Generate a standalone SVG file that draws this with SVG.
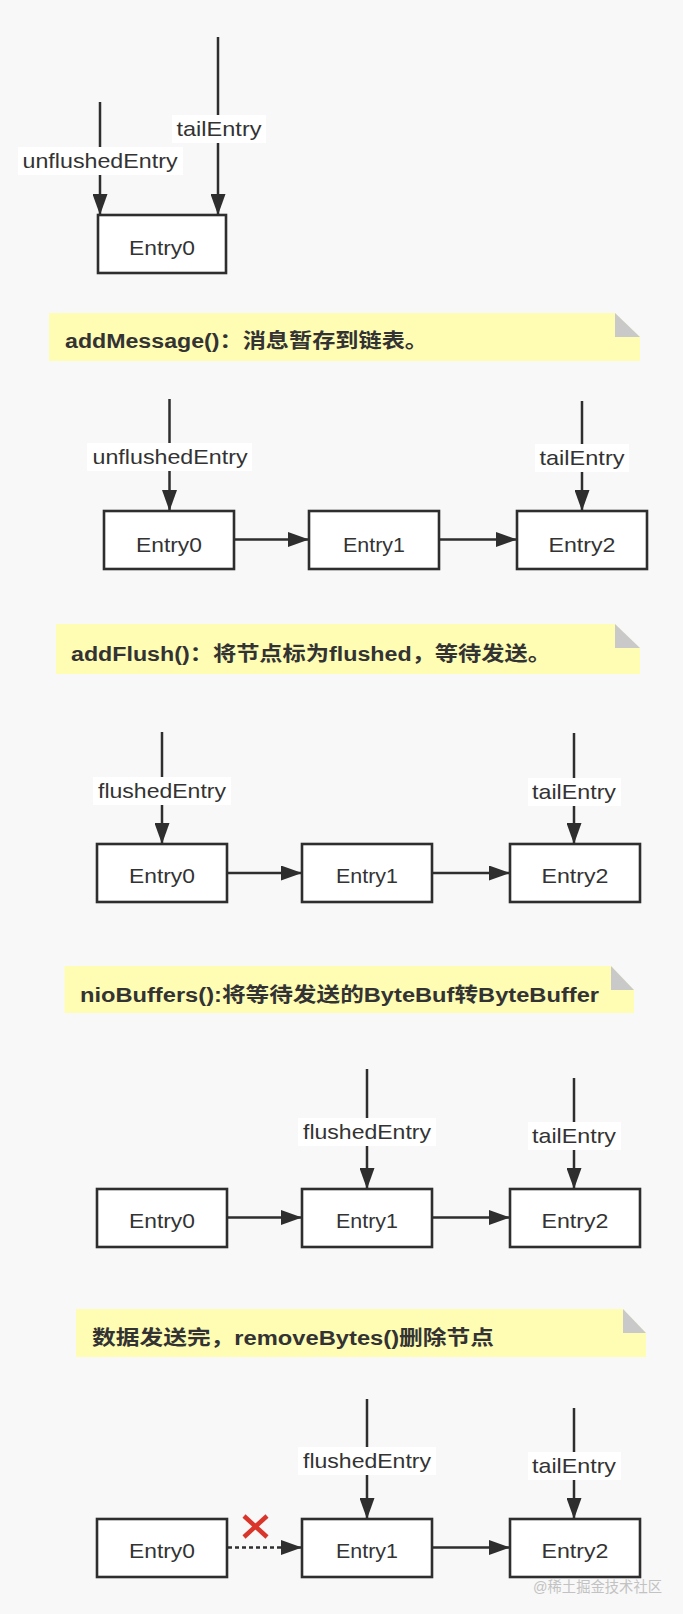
<svg xmlns="http://www.w3.org/2000/svg" width="683" height="1614" viewBox="0 0 683 1614">
<style>
.bg{fill:#f8f8f8}
.box{fill:#ffffff;stroke:#2e2e2e;stroke-width:2.6}
.et{font-family:"Liberation Sans","Noto Sans CJK SC",sans-serif;font-size:21px;fill:#333;text-anchor:middle}
.lbl{font-family:"Liberation Sans","Noto Sans CJK SC",sans-serif;font-size:21px;fill:#333;text-anchor:middle}
.lblbg{fill:#ffffff}
.note{fill:#fffdb3}
.fold{fill:#c9c9c9}
.nt{font-family:"Liberation Sans","Noto Sans CJK SC",sans-serif;font-size:20px;font-weight:bold;fill:#333}
.ln{stroke:#2e2e2e;stroke-width:2.5;fill:none;marker-end:url(#ah)}
.dot{stroke:#2e2e2e;stroke-width:2.5;fill:none;stroke-dasharray:4 3;marker-end:url(#ah)}
.x{stroke:#d9352b;stroke-width:4.5;stroke-linecap:butt}
.wm{font-family:"Liberation Sans","Noto Sans CJK SC",sans-serif;font-size:15px;fill:#c2c2c2}
</style>
<defs>
<marker id="ah" viewBox="0 0 21 15" refX="21" refY="7.5" markerWidth="21" markerHeight="15" markerUnits="userSpaceOnUse" orient="auto">
<path d="M0,0 L21,7.5 L0,15 z" fill="#2e2e2e"/>
</marker>
</defs>
<rect class="bg" x="0" y="0" width="683" height="1614"/>

<!-- Notes -->
<g id="note1">
<polygon class="note" points="49,313 615,313 640,337 640,361 49,361"/>
<polygon class="fold" points="615,313 615,337 640,337"/>
<text class="nt" x="65" y="348" textLength="363" lengthAdjust="spacingAndGlyphs">addMessage()：消息暂存到链表。</text>
</g>
<g id="note2">
<polygon class="note" points="56,624 615,624 640,648 640,674 56,674"/>
<polygon class="fold" points="615,624 615,648 640,648"/>
<text class="nt" x="71" y="661" textLength="480" lengthAdjust="spacingAndGlyphs">addFlush()：将节点标为flushed，等待发送。</text>
</g>
<g id="note3">
<polygon class="note" points="64.5,966 611,966 634,990 634,1013 64.5,1013"/>
<polygon class="fold" points="611,966 611,990 634,990"/>
<text class="nt" x="80" y="1002" textLength="519" lengthAdjust="spacingAndGlyphs">nioBuffers():将等待发送的ByteBuf转ByteBuffer</text>
</g>
<g id="note4">
<polygon class="note" points="76,1309 623,1309 646,1333 646,1357 76,1357"/>
<polygon class="fold" points="623,1309 623,1333 646,1333"/>
<text class="nt" x="92" y="1345" textLength="402" lengthAdjust="spacingAndGlyphs">数据发送完，removeBytes()删除节点</text>
</g>

<!-- Connectors -->
<g id="connectors">
<!-- section 1 -->
<line class="ln" x1="100" y1="102" x2="100" y2="215"/>
<line class="ln" x1="218" y1="37" x2="218" y2="215"/>
<!-- section 2 -->
<line class="ln" x1="169.5" y1="399" x2="169.5" y2="511"/>
<line class="ln" x1="582" y1="401" x2="582" y2="511"/>
<line class="ln" x1="234" y1="539.5" x2="309" y2="539.5"/>
<line class="ln" x1="439" y1="539.5" x2="517" y2="539.5"/>
<!-- section 3 -->
<line class="ln" x1="162" y1="732" x2="162" y2="844"/>
<line class="ln" x1="574" y1="733" x2="574" y2="844"/>
<line class="ln" x1="227" y1="873" x2="302" y2="873"/>
<line class="ln" x1="432" y1="873" x2="510" y2="873"/>
<!-- section 4 -->
<line class="ln" x1="367" y1="1069" x2="367" y2="1189"/>
<line class="ln" x1="574" y1="1078" x2="574" y2="1189"/>
<line class="ln" x1="227" y1="1217.5" x2="302" y2="1217.5"/>
<line class="ln" x1="432" y1="1217.5" x2="510" y2="1217.5"/>
<!-- section 5 -->
<line class="ln" x1="367" y1="1399" x2="367" y2="1519"/>
<line class="ln" x1="574" y1="1408" x2="574" y2="1519"/>
<line class="dot" x1="228" y1="1547.5" x2="302" y2="1547.5"/>
<line class="ln" x1="432" y1="1547.5" x2="510" y2="1547.5"/>
<line class="x" x1="244" y1="1516" x2="267" y2="1537"/>
<line class="x" x1="267" y1="1516" x2="244" y2="1537"/>

<!-- labels -->
<rect class="lblbg" x="18" y="147" width="165" height="28"/>
<text class="lbl" x="100" y="168" textLength="155" lengthAdjust="spacingAndGlyphs">unflushedEntry</text>
<rect class="lblbg" x="172" y="115" width="94" height="28"/>
<text class="lbl" x="219" y="136" textLength="85" lengthAdjust="spacingAndGlyphs">tailEntry</text>

<rect class="lblbg" x="87" y="443" width="165" height="28"/>
<text class="lbl" x="170" y="464" textLength="155" lengthAdjust="spacingAndGlyphs">unflushedEntry</text>
<rect class="lblbg" x="535" y="444" width="94" height="28"/>
<text class="lbl" x="582" y="465" textLength="85" lengthAdjust="spacingAndGlyphs">tailEntry</text>

<rect class="lblbg" x="93" y="777" width="138" height="28"/>
<text class="lbl" x="162" y="798" textLength="128" lengthAdjust="spacingAndGlyphs">flushedEntry</text>
<rect class="lblbg" x="528" y="778" width="93" height="28"/>
<text class="lbl" x="574" y="799" textLength="84" lengthAdjust="spacingAndGlyphs">tailEntry</text>

<rect class="lblbg" x="298" y="1118" width="138" height="28"/>
<text class="lbl" x="367" y="1139" textLength="128" lengthAdjust="spacingAndGlyphs">flushedEntry</text>
<rect class="lblbg" x="528" y="1122" width="93" height="28"/>
<text class="lbl" x="574" y="1143" textLength="84" lengthAdjust="spacingAndGlyphs">tailEntry</text>

<rect class="lblbg" x="298" y="1447" width="138" height="28"/>
<text class="lbl" x="367" y="1468" textLength="128" lengthAdjust="spacingAndGlyphs">flushedEntry</text>
<rect class="lblbg" x="528" y="1452" width="93" height="28"/>
<text class="lbl" x="574" y="1473" textLength="84" lengthAdjust="spacingAndGlyphs">tailEntry</text>
</g>

<!-- Section 1 -->
<g id="s1-entry0"><rect class="box" x="98" y="215" width="128" height="58"/><text class="et" x="162" y="255" textLength="66" lengthAdjust="spacingAndGlyphs">Entry0</text></g>

<!-- Section 2 -->
<g id="s2-entry0"><rect class="box" x="104" y="511" width="130" height="58"/><text class="et" x="169" y="552" textLength="66" lengthAdjust="spacingAndGlyphs">Entry0</text></g>
<g id="s2-entry1"><rect class="box" x="309" y="511" width="130" height="58"/><text class="et" x="374" y="552" textLength="62" lengthAdjust="spacingAndGlyphs">Entry1</text></g>
<g id="s2-entry2"><rect class="box" x="517" y="511" width="130" height="58"/><text class="et" x="582" y="552" textLength="67" lengthAdjust="spacingAndGlyphs">Entry2</text></g>

<!-- Section 3 -->
<g id="s3-entry0"><rect class="box" x="97" y="844" width="130" height="58"/><text class="et" x="162" y="883" textLength="66" lengthAdjust="spacingAndGlyphs">Entry0</text></g>
<g id="s3-entry1"><rect class="box" x="302" y="844" width="130" height="58"/><text class="et" x="367" y="883" textLength="62" lengthAdjust="spacingAndGlyphs">Entry1</text></g>
<g id="s3-entry2"><rect class="box" x="510" y="844" width="130" height="58"/><text class="et" x="575" y="883" textLength="67" lengthAdjust="spacingAndGlyphs">Entry2</text></g>

<!-- Section 4 -->
<g id="s4-entry0"><rect class="box" x="97" y="1189" width="130" height="58"/><text class="et" x="162" y="1228" textLength="66" lengthAdjust="spacingAndGlyphs">Entry0</text></g>
<g id="s4-entry1"><rect class="box" x="302" y="1189" width="130" height="58"/><text class="et" x="367" y="1228" textLength="62" lengthAdjust="spacingAndGlyphs">Entry1</text></g>
<g id="s4-entry2"><rect class="box" x="510" y="1189" width="130" height="58"/><text class="et" x="575" y="1228" textLength="67" lengthAdjust="spacingAndGlyphs">Entry2</text></g>

<!-- Section 5 -->
<g id="s5-entry0"><rect class="box" x="97" y="1519" width="130" height="58"/><text class="et" x="162" y="1558" textLength="66" lengthAdjust="spacingAndGlyphs">Entry0</text></g>
<g id="s5-entry1"><rect class="box" x="302" y="1519" width="130" height="58"/><text class="et" x="367" y="1558" textLength="62" lengthAdjust="spacingAndGlyphs">Entry1</text></g>
<g id="s5-entry2"><rect class="box" x="510" y="1519" width="130" height="58"/><text class="et" x="575" y="1558" textLength="67" lengthAdjust="spacingAndGlyphs">Entry2</text></g>

<g id="watermark"><text class="wm" x="533" y="1592" textLength="129" lengthAdjust="spacingAndGlyphs">@稀土掘金技术社区</text></g>
</svg>
